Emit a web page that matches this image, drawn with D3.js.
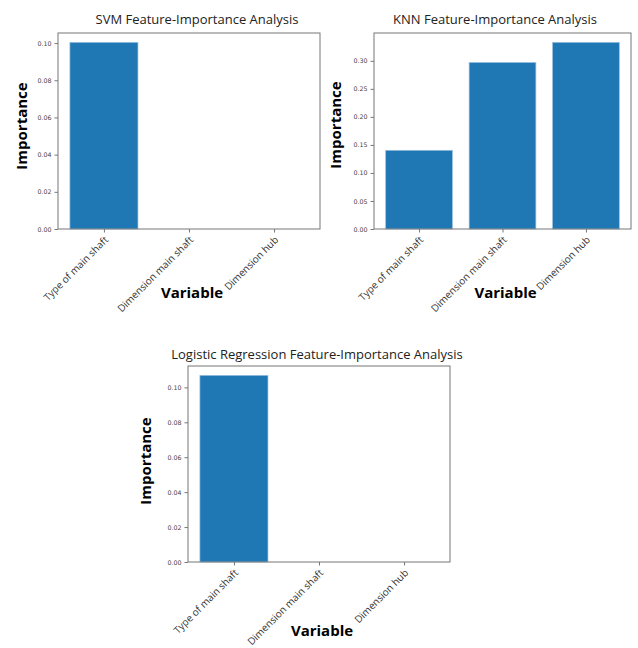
<!DOCTYPE html>
<html>
<head>
<meta charset="utf-8">
<script src="https://cdn.jsdelivr.net/npm/d3@7"></script>
<style>
  html, body { margin: 0; padding: 0; background: #fff; }
  svg { display: block; }
</style>
</head>
<body>
<svg id="chart" width="638" height="648"></svg>
<script>
// ---- data ----
const categories = ["Type of main shaft", "Dimension main shaft", "Dimension hub"];
const svmValues = [0.1004, 0.0, 0.0];
const knnValues = [0.1404, 0.2971, 0.333];
const lrValues = [0.1069, 0.0, 0.0];
const svmTicks = [0.00, 0.02, 0.04, 0.06, 0.08, 0.10];
const knnTicks = [0.00, 0.05, 0.10, 0.15, 0.20, 0.25, 0.30];
const lrTicks = [0.00, 0.02, 0.04, 0.06, 0.08, 0.10];
const titles = ["SVM Feature-Importance Analysis", "KNN Feature-Importance Analysis", "Logistic Regression Feature-Importance Analysis"];
const xLabel = "Variable";
const yLabel = "Importance";

// ---- layout (pixel boxes of each axes) ----
const panels = [
  { box: { left: 58, top: 33, right: 320, bottom: 229 }, values: svmValues, ticks: svmTicks, title: titles[0], titleX: 197, titleY: 24, yLabX: 27, yLabY: 126, xLabY: 298 },
  { box: { left: 374, top: 33, right: 631, bottom: 229 }, values: knnValues, ticks: knnTicks, title: titles[1], titleX: 495, titleY: 24, yLabX: 341, yLabY: 125, xLabY: 298 },
  { box: { left: 188, top: 366, right: 450, bottom: 562 }, values: lrValues, ticks: lrTicks, title: titles[2], titleX: 317, titleY: 359, yLabX: 151, yLabY: 461, xLabY: 636 }
];

const svg = d3.select("#chart");
const uiFont = "'Open Sans', 'Noto Sans', sans-serif";
const tickFont = "'DejaVu Sans', sans-serif";

panels.forEach(p => {
  const b = p.box;
  const g = svg.append("g");
  const n = categories.length;
  const x = d3.scaleLinear().domain([-0.4 - 0.05 * (n - 0.2), (n - 1) + 0.4 + 0.05 * (n - 0.2)]).range([b.left, b.right]);
  const yMax = d3.max(p.values) * 1.05;
  const y = d3.scaleLinear().domain([0, yMax]).range([b.bottom, b.top]);
  const barW = 0.8;

  // bars
  g.selectAll("rect.bar").data(p.values).join("rect")
    .attr("class", "bar")
    .attr("x", (d, i) => x(i - barW / 2))
    .attr("width", (d, i) => x(i + barW / 2) - x(i - barW / 2))
    .attr("y", d => y(d))
    .attr("height", d => y(0) - y(d))
    .attr("fill", "#1f77b4")
    .attr("stroke", "#9cc2e0")
    .attr("stroke-width", 0.7);

  // frame
  g.append("rect")
    .attr("x", b.left).attr("y", b.top)
    .attr("width", b.right - b.left).attr("height", b.bottom - b.top)
    .attr("fill", "none").attr("stroke", "#777").attr("stroke-width", 1);

  // y axis
  const yAxis = d3.axisLeft(y).tickValues(p.ticks).tickFormat(d3.format(".2f")).tickSizeOuter(0).tickSize(3.5).tickPadding(3);
  const ya = g.append("g").attr("transform", `translate(${b.left},0)`).call(yAxis);
  ya.select(".domain").remove();
  ya.selectAll(".tick line").attr("stroke", "#777");
  ya.selectAll(".tick text").attr("fill", "#444").style("font-family", tickFont).style("font-size", "6.3px");

  // x axis
  const xAxis = d3.axisBottom(x).tickValues(d3.range(n)).tickFormat(i => categories[i]).tickSizeOuter(0).tickSize(3.5).tickPadding(0);
  const xa = g.append("g").attr("transform", `translate(0,${b.bottom})`).call(xAxis);
  xa.select(".domain").remove();
  xa.selectAll(".tick line").attr("stroke", "#777");
  xa.selectAll(".tick text")
    .attr("fill", "#333")
    .style("font-family", uiFont).style("font-size", "10px")
    .attr("text-anchor", "end")
    .attr("dy", null)
    .attr("transform", "translate(2,9) rotate(-45)");

  // title
  g.append("text").attr("x", p.titleX).attr("y", p.titleY)
    .attr("text-anchor", "middle")
    .style("font-family", uiFont).style("font-size", "13px").attr("fill", "#222")
    .text(p.title);

  // axis labels
  g.append("text").attr("x", (b.left + b.right) / 2 + 3).attr("y", p.xLabY)
    .attr("text-anchor", "middle")
    .style("font-family", uiFont).style("font-size", "15px").style("font-weight", "bold").attr("fill", "#000")
    .text(xLabel);
  g.append("text")
    .attr("transform", `translate(${p.yLabX},${p.yLabY}) rotate(-90)`)
    .attr("text-anchor", "middle")
    .style("font-family", uiFont).style("font-size", "15px").style("font-weight", "bold").attr("fill", "#000")
    .text(yLabel);
});
</script>
</body>
</html>
